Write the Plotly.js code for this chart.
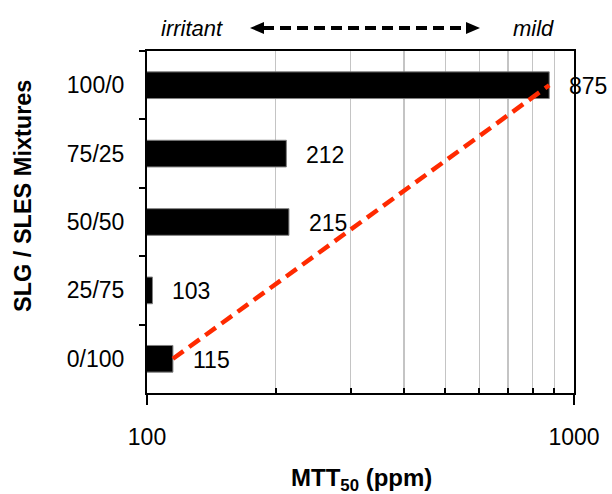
<!DOCTYPE html>
<html>
<head>
<meta charset="utf-8">
<script src="https://cdn.plot.ly/plotly-3.0.1.min.js"></script>
<style>html,body{margin:0;padding:0;background:#fff;}#chart{width:612px;height:494px;}</style>
</head>
<body>
<div id="chart"></div>
<script>
// Data
const mixtures = ['100/0', '75/25', '50/50', '25/75', '0/100'];
const mtt50 = [875, 212, 215, 103, 115];
const trendX = [115, 875];
const trendY = ['0/100', '100/0'];
const majorTicks = [100, 1000];
const minorTicks = [200, 300, 400, 500, 600, 700, 800, 900];

const FONT = 'Liberation Sans, Arial, sans-serif';
const W = 612, H = 494;
const L = 147, R = 574, T = 51, B = 393;
const px = x => (x - L) / (R - L);
const py = y => (B - y) / (B - T);

const bars = {
  type: 'bar', orientation: 'h',
  x: mtt50, y: mixtures,
  width: 0.39,
  marker: {color: '#000000', line: {color: '#808080', width: 1}},
  hoverinfo: 'x+y'
};
const trend = {
  type: 'scatter', mode: 'lines',
  x: trendX, y: trendY,
  line: {color: '#ff2a00', width: 4.5, dash: '13px,7px'},
  hoverinfo: 'skip'
};

const annotations = mixtures.map((m, i) => ({
  x: Math.log10(mtt50[i]), y: m, xref: 'x', yref: 'y',
  text: String(mtt50[i]), showarrow: false,
  xanchor: 'left', yanchor: 'middle', xshift: 18, yshift: -1,
  font: {family: FONT, size: 23, color: '#000'}
}));
annotations.push(
  {xref: 'paper', yref: 'paper', x: px(192), y: py(29), text: '<i>irritant</i>', showarrow: false,
   xanchor: 'center', yanchor: 'middle', font: {family: FONT, size: 22, color: '#000'}},
  {xref: 'paper', yref: 'paper', x: px(533), y: py(29), text: '<i>mild</i>', showarrow: false,
   xanchor: 'center', yanchor: 'middle', font: {family: FONT, size: 22, color: '#000'}},
  {xref: 'paper', yref: 'paper', x: px(23), y: py(196), text: '<b>SLG / SLES Mixtures</b>', showarrow: false,
   textangle: -90, xanchor: 'center', yanchor: 'middle', font: {family: FONT, size: 23.5, color: '#000'}},
  {xref: 'paper', yref: 'paper', x: px(361), y: py(479), text: '<b>MTT<sub>50</sub> (ppm)</b>', showarrow: false,
   xanchor: 'center', yanchor: 'middle', font: {family: FONT, size: 24, color: '#000'}}
);

const ay = py(28), ah = 6 / (B - T);
const shapes = [
  {type: 'line', xref: 'paper', yref: 'paper', x0: px(263), x1: px(467), y0: ay, y1: ay,
   line: {color: '#000', width: 4, dash: '11px,6px'}},
  {type: 'path', xref: 'paper', yref: 'paper',
   path: `M ${px(250)} ${ay} L ${px(264)} ${ay + ah} L ${px(264)} ${ay - ah} Z`,
   fillcolor: '#000', line: {color: '#000', width: 0}},
  {type: 'path', xref: 'paper', yref: 'paper',
   path: `M ${px(480)} ${ay} L ${px(466)} ${ay + ah} L ${px(466)} ${ay - ah} Z`,
   fillcolor: '#000', line: {color: '#000', width: 0}}
];

const layout = {
  width: W, height: H,
  margin: {l: L, r: W - R, t: T, b: H - B, pad: 0},
  paper_bgcolor: '#fff', plot_bgcolor: '#fff',
  showlegend: false,
  font: {family: FONT, size: 23, color: '#000'},
  xaxis: {
    type: 'log', range: [2, 3],
    tickmode: 'array', tickvals: majorTicks, ticktext: majorTicks.map(String),
    ticks: 'outside', ticklen: 10, tickwidth: 2, tickcolor: '#000',
    ticklabelstandoff: 12,
    showgrid: false, zeroline: false,
    showline: true, linecolor: '#000', linewidth: 2, mirror: true,
    minor: {tickmode: 'array', tickvals: minorTicks, ticks: 'inside', ticklen: 5, tickwidth: 2,
            tickcolor: '#000', showgrid: true, gridcolor: '#c4c4c4', gridwidth: 1.5},
    tickfont: {family: FONT, size: 23, color: '#000'},
    fixedrange: true
  },
  yaxis: {
    type: 'category', categoryorder: 'array', categoryarray: mixtures,
    autorange: 'reversed',
    tickson: 'boundaries', ticks: 'outside', ticklen: 6, tickwidth: 2, tickcolor: '#000',
    ticklabelstandoff: 16,
    showgrid: false, zeroline: false,
    showline: true, linecolor: '#000', linewidth: 2, mirror: true,
    tickfont: {family: FONT, size: 23, color: '#000'},
    fixedrange: true
  },
  annotations: annotations,
  shapes: shapes
};

Plotly.newPlot('chart', [bars, trend], layout, {displayModeBar: false, staticPlot: true});
</script>
</body>
</html>
